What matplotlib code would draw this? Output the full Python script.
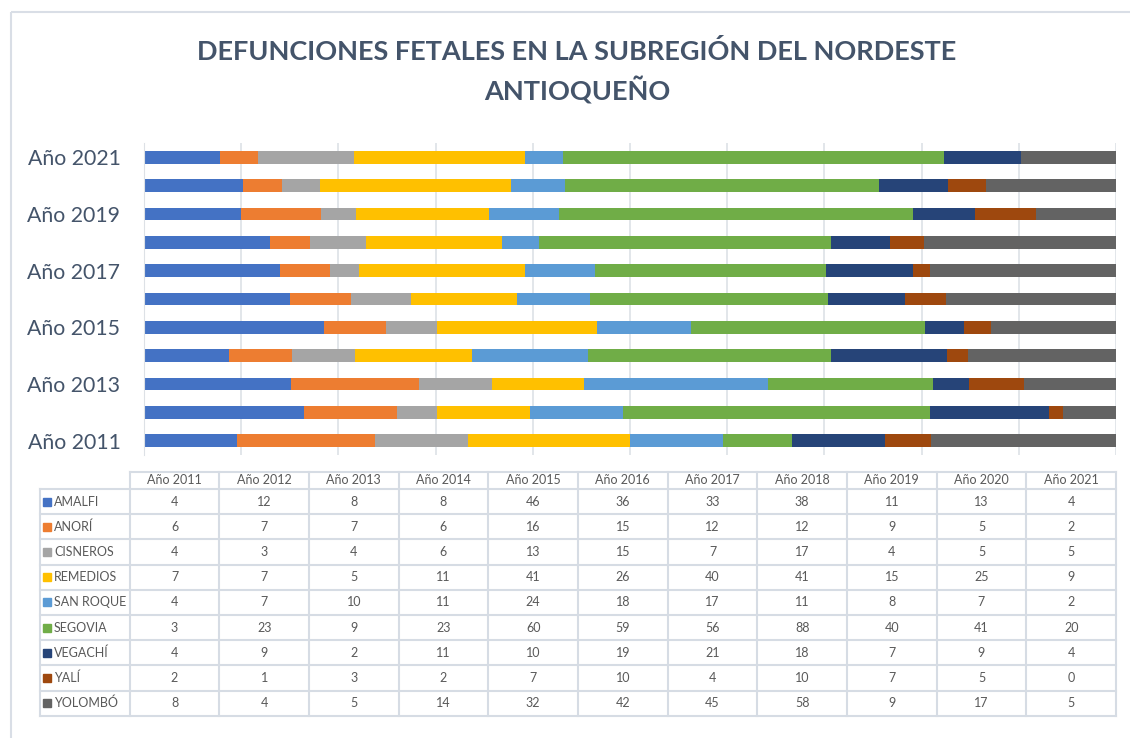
import matplotlib.pyplot as plt
from matplotlib.patches import Rectangle

plt.rcParams['font.family'] = ['Lato', 'DejaVu Sans']

years = ['Año 2011', 'Año 2012', 'Año 2013', 'Año 2014', 'Año 2015', 'Año 2016',
         'Año 2017', 'Año 2018', 'Año 2019', 'Año 2020', 'Año 2021']
municipios = ['AMALFI', 'ANORÍ', 'CISNEROS', 'REMEDIOS', 'SAN ROQUE',
              'SEGOVIA', 'VEGACHÍ', 'YALÍ', 'YOLOMBÓ']

amalfi = [4, 12, 8, 8, 46, 36, 33, 38, 11, 13, 4]
anori = [6, 7, 7, 6, 16, 15, 12, 12, 9, 5, 2]
cisneros = [4, 3, 4, 6, 13, 15, 7, 17, 4, 5, 5]
remedios = [7, 7, 5, 11, 41, 26, 40, 41, 15, 25, 9]
san_roque = [4, 7, 10, 11, 24, 18, 17, 11, 8, 7, 2]
segovia = [3, 23, 9, 23, 60, 59, 56, 88, 40, 41, 20]
vegachi = [4, 9, 2, 11, 10, 19, 21, 18, 7, 9, 4]
yali = [2, 1, 3, 2, 7, 10, 4, 10, 7, 5, 0]
yolombo = [8, 4, 5, 14, 32, 42, 45, 58, 9, 17, 5]

series = [amalfi, anori, cisneros, remedios, san_roque, segovia, vegachi, yali, yolombo]
colors = ['#4472C4', '#ED7D31', '#A5A5A5', '#FFC000', '#5B9BD5',
          '#70AD47', '#264478', '#9E480E', '#636363']

W, H = 1130, 738
fig = plt.figure(figsize=(W / 100, H / 100), dpi=100)

# outer chart border
bg = fig.add_axes([0, 0, 1, 1])
bg.set_xlim(0, W)
bg.set_ylim(H, 0)
bg.axis('off')
bg.add_patch(Rectangle((11, 12), W + 20, H + 20, fill=False, ec='#D9DEE6', lw=1.5))

title_col = '#44546A'
fig.text(577 / W, 1 - 52 / H, 'DEFUNCIONES FETALES EN LA SUBREGIÓN DEL NORDESTE',
         ha='center', va='center', fontsize=19.5, fontweight='bold', color=title_col)
fig.text(577 / W, 1 - 90 / H, 'ANTIOQUEÑO',
         ha='center', va='center', fontsize=19.5, fontweight='bold', color=title_col)

# stacked 100% bars
ax = fig.add_axes([144 / W, 1 - 455 / H, 972 / W, 312 / H])
totals = [sum(s[i] for s in series) for i in range(len(years))]
pos = list(range(len(years)))
left = [0.0] * len(years)
for s, c in zip(series, colors):
    share = [v / t * 100 for v, t in zip(s, totals)]
    ax.barh(pos, share, left=left, height=0.45, color=c, zorder=2)
    left = [a + b for a, b in zip(left, share)]

ax.set_xlim(0, 100)
ax.set_ylim(-0.5, 10.5)
ax.set_xticks(range(0, 101, 10))
ax.set_xticklabels([])
ax.set_yticks(pos[::2])
ax.set_yticklabels(years[::2], fontsize=15.3, color=title_col)
ax.tick_params(length=0, pad=17)
ax.grid(axis='x', color='#DDE1E6', lw=1.2, zorder=0)
for sp in ['top', 'right', 'bottom']:
    ax.spines[sp].set_visible(False)
ax.spines['left'].set_color('#DDE1E6')

# data table
grid_col = '#D6DCE4'
txt_col = '#595959'
tx0, tx1 = 40, 1116
col_w = (tx1 - tx0) / 12
y_top, y_head, row_h = 472, 489, 25.2
y_bot = y_head + row_h * len(municipios)

bg.plot([tx0 + col_w, tx1], [y_top, y_top], color=grid_col, lw=1.5)
for r in range(len(municipios) + 1):
    yy = y_head + r * row_h
    bg.plot([tx0, tx1], [yy, yy], color=grid_col, lw=1.5)
bg.plot([tx0, tx0], [y_head, y_bot], color=grid_col, lw=1.5)
for c in range(1, 13):
    xx = tx0 + c * col_w
    bg.plot([xx, xx], [y_top, y_bot], color=grid_col, lw=1.5)

for j, yr in enumerate(years):
    bg.text(tx0 + (j + 1.5) * col_w, (y_top + y_head) / 2, yr,
            ha='center', va='center', fontsize=9, color=txt_col)

for i, (name, s, c) in enumerate(zip(municipios, series, colors)):
    yc = y_head + (i + 0.5) * row_h
    bg.add_patch(Rectangle((tx0 + 3, yc - 4), 8, 8, color=c))
    bg.text(tx0 + 14, yc, name, ha='left', va='center', fontsize=9, color=txt_col)
    for j, v in enumerate(s):
        bg.text(tx0 + (j + 1.5) * col_w, yc, str(v),
                ha='center', va='center', fontsize=9, color=txt_col)

fig.savefig('out.png', dpi=100)
